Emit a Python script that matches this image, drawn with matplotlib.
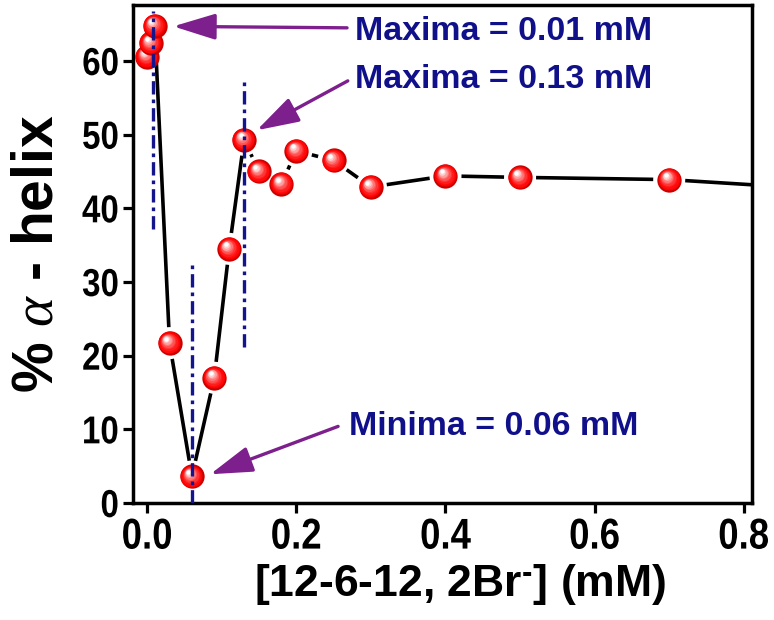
import numpy as np
import matplotlib
matplotlib.use("Agg")
import matplotlib.pyplot as plt
import matplotlib.transforms as mtransforms
from matplotlib.patheffects import AbstractPathEffect
from matplotlib.colors import to_rgb

# ---------------- data ----------------
conc = [0.0, 0.005, 0.01, 0.03, 0.06, 0.09, 0.11, 0.13, 0.15, 0.18, 0.20, 0.25, 0.30, 0.40, 0.50, 0.70, 1.00]
helix = [60.6, 62.4, 64.8, 21.7, 3.6, 17.0, 34.5, 49.3, 45.0, 43.3, 47.8, 46.5, 42.9, 44.4, 44.2, 43.9, 42.0]

xticks = [0.0, 0.2, 0.4, 0.6, 0.8]
xticklabels = ["0.0", "0.2", "0.4", "0.6", "0.8"]
yticks = [0, 10, 20, 30, 40, 50, 60]
yticklabels = ["0", "10", "20", "30", "40", "50", "60"]

vline_x = [0.008, 0.13, 0.06]
vline_ymin = [37.2, 21.2, 0.0]
vline_ymax = [66.8, 57.4, 32.7]

ann_texts = ["Maxima = 0.01 mM", "Maxima = 0.13 mM", "Minima = 0.06 mM"]
ann_text_xy = [(0.279, 62.8), (0.279, 56.4), (0.270, 9.2)]
ann_tail_xy = [(0.268, 64.5), (0.269, 57.3), (0.256, 10.4)]
ann_head_xy = [(0.035, 64.7), (0.147, 50.6), (0.0845, 3.9)]

xlabel = "[12-6-12, 2Br$^{\\text{-}}$] (mM)"
ylabel = "% $\\alpha$ - helix"


# ---------------- helpers ----------------
class XCondense(AbstractPathEffect):
    """Horizontally condense text glyphs (text stays a real Text artist)."""

    def __init__(self, sx=0.85, anchor="center"):
        super().__init__()
        self.sx = sx
        self.anchor = anchor

    def draw_path(self, renderer, gc, tpath, affine, rgbFace=None):
        v = affine.transform(tpath.vertices)
        if len(v):
            if self.anchor == "right":
                cx = v[:, 0].max()
            elif self.anchor == "left":
                cx = v[:, 0].min()
            else:
                cx = 0.5 * (v[:, 0].min() + v[:, 0].max())
        else:
            cx = 0.0
        aff = affine + mtransforms.Affine2D().translate(-cx, 0).scale(self.sx, 1).translate(cx, 0)
        renderer.draw_path(gc, tpath, aff, rgbFace)


# ---------------- style ----------------
plt.rcParams["mathtext.fontset"] = "custom"
plt.rcParams["mathtext.rm"] = "Liberation Sans:bold"
plt.rcParams["mathtext.bf"] = "Liberation Sans:bold"
plt.rcParams["mathtext.it"] = "Liberation Serif:italic"
tick_font = ["Liberation Sans", "DejaVu Sans"]
label_font = ["Liberation Sans", "DejaVu Sans"]
navy = "#10108a"
purple = "#7d1f8c"

W, H = 774, 620
fig = plt.figure(figsize=(W / 100, H / 100), dpi=100)
ax = fig.add_axes([133 / W, 1 - 503 / H, (752 - 133) / W, (503 - 5) / H])
ax.set_xlim(-0.019, 0.811)
ax.set_ylim(0, 67.6)

for s in ax.spines.values():
    s.set_linewidth(2.5)
ax.tick_params(axis="both", which="major", direction="out", length=7.5, width=2.3)
ax.tick_params(axis="x", pad=3)
ax.tick_params(axis="y", pad=2.5)
ax.set_xticks(xticks)
ax.set_xticklabels(xticklabels, fontfamily=tick_font, fontweight="bold", fontsize=31)
ax.set_yticks(yticks)
ax.set_yticklabels(yticklabels, fontfamily=tick_font, fontweight="bold", fontsize=28)
for lab in ax.get_xticklabels():
    lab.set_path_effects([XCondense(0.85, "center")])
for lab in ax.get_yticklabels():
    lab.set_path_effects([XCondense(0.85, "right")])

ax.set_xlabel(xlabel, fontfamily=label_font, fontweight="bold", fontsize=32)
ax.xaxis.set_label_coords((460 - 133) / (752 - 133), -(562 - 503) / (503 - 5))
ax.set_ylabel(ylabel, fontfamily=label_font, fontweight="bold", fontsize=41, labelpad=8)

# ---------------- connecting line with gaps near markers ----------------
gap_px = 16.0
disp = ax.transData.transform(np.column_stack([conc, helix]))
inv = ax.transData.inverted()
for i in range(len(conc) - 1):
    p, q = disp[i], disp[i + 1]
    d = q - p
    L = np.hypot(*d)
    if L <= 2 * gap_px + 2:
        continue
    u = d / L
    a = inv.transform(p + u * gap_px)
    b = inv.transform(q - u * gap_px)
    ax.plot([a[0], b[0]], [a[1], b[1]], color="black", lw=2.6,
            solid_capstyle="butt", zorder=2)

# ---------------- shaded sphere markers ----------------
D = 17.5  # marker diameter in points
red = np.array(to_rgb("#ff0000"))
dark = np.array(to_rgb("#c80000"))
white = np.array([1.0, 1.0, 1.0])
hl_dx, hl_dy = -2.6, 3.2  # highlight offset (points)
nlev = 9
for i in range(len(conc)):
    z = 10 + i * 0.1
    ax.plot(conc[i], helix[i], "o", ms=D, mfc=dark, mec="none", zorder=z)
    ax.plot(conc[i], helix[i], "o", ms=D * 0.9, mfc=red, mec="none", zorder=z + 0.001,
            transform=mtransforms.offset_copy(ax.transData, fig, x=-0.5, y=0.6, units="points"))
    for k in range(1, nlev):
        t = k / (nlev - 1)
        size = D * 0.9 * (1 - 0.8 * t)
        col = red + (white - red) * (t ** 1.6)
        tr = mtransforms.offset_copy(ax.transData, fig, x=hl_dx * t, y=hl_dy * t, units="points")
        ax.plot(conc[i], helix[i], "o", ms=size, mfc=col, mec="none",
                zorder=z + 0.001 * (k + 1), transform=tr)

# ---------------- dash-dot guide lines ----------------
for xv, y0, y1 in zip(vline_x, vline_ymin, vline_ymax):
    ln, = ax.plot([xv, xv], [y0, y1], color="#14148c", lw=2.4, zorder=20)
    ln.set_dashes([4.0, 1.5, 1.1, 1.5])

# ---------------- annotations ----------------
for txt, txy, tail, head in zip(ann_texts, ann_text_xy, ann_tail_xy, ann_head_xy):
    ax.text(txy[0], txy[1], txt, color=navy, fontfamily=label_font, fontweight="bold",
            fontsize=24.5, ha="left", va="baseline", zorder=30)
    ax.annotate("", xy=head, xytext=tail, xycoords="data", textcoords="data",
                arrowprops=dict(arrowstyle="-|>,head_length=26,head_width=8",
                                mutation_scale=1, color=purple, lw=2.4,
                                shrinkA=0, shrinkB=0),
                zorder=25)

fig.savefig("out.png", dpi=100)
